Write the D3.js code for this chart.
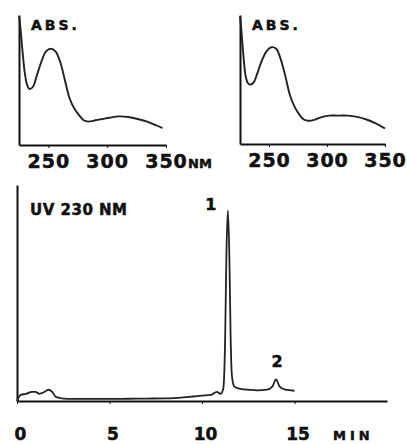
<!DOCTYPE html>
<html>
<head>
<meta charset="utf-8">
<script src="https://cdn.jsdelivr.net/npm/d3@7"></script>
<style>
  body { margin: 0; background: #fff; }
  svg { display: block; }
  text { font-family: "DejaVu Sans", sans-serif; font-weight: bold; fill: #111; stroke: #111; stroke-width: 0.5px; }
  .tick line, .domain { stroke: #111; }
</style>
</head>
<body>
<div id="chart"></div>
<script>
// spectrum of peak 1 (left) and peak 2 (right): wavelength nm, relative absorbance
const spec1Nm  = [225, 226, 228, 230, 232, 234, 237, 240, 244, 248, 252, 256, 260, 264, 268, 272, 276, 280, 284, 290, 296, 302, 310, 318, 326, 334, 342, 347];
const spec1Abs = [0.99, 0.92, 0.72, 0.55, 0.46, 0.43, 0.45, 0.53, 0.64, 0.72, 0.74, 0.72, 0.64, 0.5, 0.36, 0.28, 0.23, 0.19, 0.18, 0.19, 0.2, 0.21, 0.22, 0.215, 0.2, 0.18, 0.15, 0.13];

const spec2Nm  = [225, 226, 228, 230, 232, 234, 237, 240, 244, 248, 252, 256, 260, 264, 268, 272, 276, 280, 284, 290, 296, 302, 310, 318, 326, 334, 342, 350];
const spec2Abs = [0.99, 0.9, 0.68, 0.52, 0.47, 0.46, 0.48, 0.55, 0.65, 0.72, 0.75, 0.74, 0.66, 0.53, 0.38, 0.29, 0.23, 0.19, 0.18, 0.19, 0.21, 0.22, 0.22, 0.22, 0.21, 0.19, 0.16, 0.12];

const nmTicks = [250, 300, 350];

// chromatogram at 230 nm: time in min, detector signal
const chromTime = [0, 0.2, 0.5, 0.8, 1.0, 1.2, 1.5, 1.7, 1.9, 2.1, 2.5, 3, 4, 5, 6, 7, 8, 9, 9.5, 10, 10.5, 10.8, 11.0, 11.15, 11.25, 11.32, 11.4, 11.48, 11.55, 11.62, 11.75, 12, 12.5, 13, 13.5, 13.8, 14.0, 14.2, 14.5, 15];
const chromSig  = [0.0, 0.03, 0.035, 0.045, 0.045, 0.035, 0.045, 0.055, 0.045, 0.02, 0.012, 0.01, 0.01, 0.01, 0.011, 0.012, 0.013, 0.018, 0.022, 0.026, 0.03, 0.045, 0.035, 0.06, 0.3, 0.72, 0.93, 0.7, 0.3, 0.12, 0.07, 0.06, 0.055, 0.052, 0.055, 0.07, 0.105, 0.07, 0.055, 0.05];
const minTicks = [0, 5, 10, 15];
const peakNames = ["1", "2"];
const peakTimes = [11.4, 14.0];
const peakSig = [0.93, 0.105];

const svg = d3.select("#chart").append("svg")
    .attr("width", 407)
    .attr("height", 444);

function drawSpectrum(nm, abs, xr, yr, labelUnit) {
    const x = d3.scaleLinear().domain([225, 350]).range(xr);
    const y = d3.scaleLinear().domain([0, 1]).range(yr);

    const gx = svg.append("g")
        .attr("transform", `translate(0,${yr[0]})`)
        .call(d3.axisBottom(x).tickValues(nmTicks).tickSize(3).tickSizeOuter(0).tickFormat(d3.format("d")));
    gx.select(".domain").attr("stroke-width", 2);
    gx.selectAll(".tick text")
        .attr("y", 9)
        .attr("dy", "0.72em")
        .style("font-size", "19px")
        .style("letter-spacing", "1px");

    const gy = svg.append("g")
        .attr("transform", `translate(${xr[0]},0)`)
        .call(d3.axisLeft(y).tickValues([]).tickSizeOuter(0));
    gy.select(".domain").attr("stroke-width", 2);

    svg.append("path")
        .datum(nm.map((d, i) => [d, abs[i]]))
        .attr("fill", "none")
        .attr("stroke", "#222")
        .attr("stroke-width", 1.9)
        .attr("d", d3.line().x(d => x(d[0])).y(d => y(d[1])).curve(d3.curveCatmullRom));

    svg.append("text")
        .attr("x", xr[0] + 12)
        .attr("y", yr[1] + 15)
        .style("font-size", "14px")
        .style("letter-spacing", "3px")
        .text("ABS.");

    if (labelUnit) {
        svg.append("text")
            .attr("x", xr[1] + 22)
            .attr("y", yr[0] + 23)
            .style("font-size", "13px")
            .text("NM");
    }
}

drawSpectrum(spec1Nm, spec1Abs, [19, 166], [145, 15], true);
drawSpectrum(spec2Nm, spec2Abs, [240, 385], [144, 15], false);

// chromatogram
const xc = d3.scaleLinear().domain([0, 20]).range([17, 387]);
const yc = d3.scaleLinear().domain([0, 1]).range([401, 196]);

const gxc = svg.append("g")
    .attr("transform", `translate(0,401)`)
    .call(d3.axisBottom(xc).tickValues(minTicks).tickSize(3).tickSizeOuter(0));
gxc.select(".domain").attr("stroke-width", 2);
gxc.selectAll(".tick text")
    .attr("x", 3)
    .attr("y", 27)
    .attr("dy", "0.72em")
    .style("font-size", "17px");

const gyc = svg.append("g")
    .attr("transform", `translate(17,0)`)
    .call(d3.axisLeft(yc.copy().domain([0, 1.053]).range([401, 185])).tickValues([]).tickSizeOuter(0));
gyc.select(".domain").attr("stroke-width", 2);

svg.append("path")
    .datum(chromTime.map((d, i) => [d, chromSig[i]]))
    .attr("fill", "none")
    .attr("stroke", "#222")
    .attr("stroke-width", 1.8)
    .attr("d", d3.line().x(d => xc(d[0])).y(d => yc(d[1])).curve(d3.curveMonotoneX));

svg.selectAll(".peak-label")
    .data(peakNames)
    .enter()
    .append("text")
    .attr("class", "peak-label")
    .attr("x", (d, i) => xc(peakTimes[i]) - (i === 0 ? 17 : -1))
    .attr("y", (d, i) => yc(peakSig[i]) - (i === 0 ? 0 : 12))
    .attr("text-anchor", "middle")
    .style("font-size", "16px")
    .text(d => d);

svg.append("text")
    .attr("x", 30)
    .attr("y", 215)
    .style("font-size", "15px")
    .style("letter-spacing", "0.5px")
    .text("UV 230 NM");

svg.append("text")
    .attr("x", 333)
    .attr("y", 440)
    .style("font-size", "13px")
    .style("letter-spacing", "4px")
    .text("MIN");
</script>
</body>
</html>
